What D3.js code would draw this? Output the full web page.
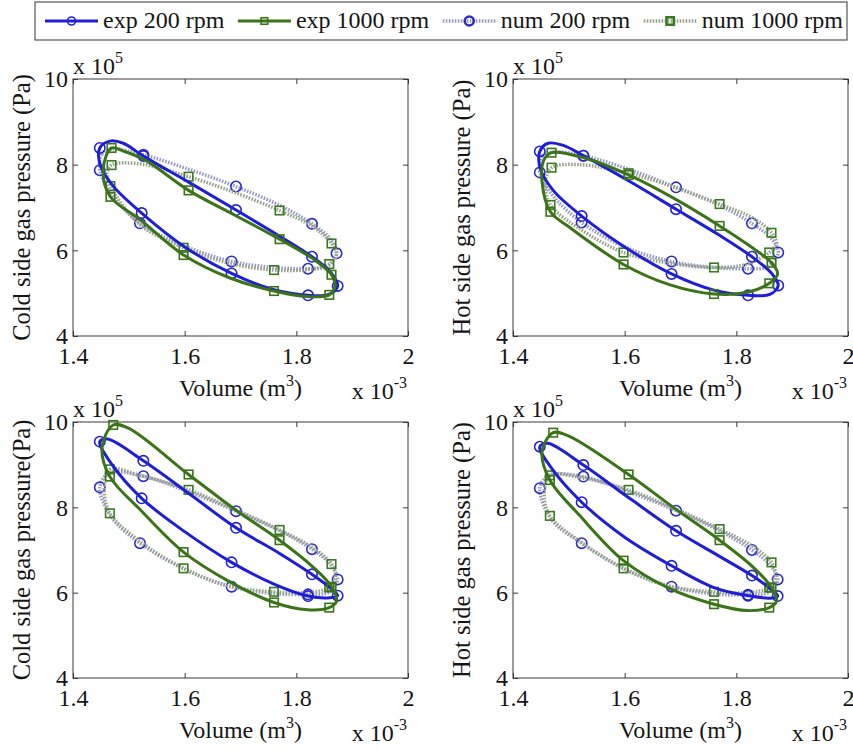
<!DOCTYPE html>
<html>
<head>
<meta charset="utf-8">
<script src="https://cdn.jsdelivr.net/npm/d3@7/dist/d3.min.js"></script>
<style>
  body { margin: 0; background: #fff; }
  svg text { font-family: "Liberation Serif", "Times New Roman", serif; fill: #151515; }
</style>
</head>
<body>
<svg id="chart" width="853" height="751"></svg>
<script>
// Volume in 1e-3 m^3, pressure in 1e5 Pa. Third value = 1 where the curve carries a marker.
const seriesNames = ["exp 200 rpm", "exp 1000 rpm", "num 200 rpm", "num 1000 rpm"];
const xTicks = [1.4, 1.6, 1.8, 2];
const yTicks = [4, 6, 8, 10];
const yLabels = ["Cold side gas pressure (Pa)", "Hot side gas pressure (Pa)",
                 "Cold side gas pressure(Pa)", "Hot side gas pressure (Pa)"];

// top left: cold side
const coldA_exp200 = [[1.448,8.39,1],[1.466,8.55,0],[1.49,8.50,0],[1.526,8.20,1],[1.61,7.57,0],[1.692,6.94,1],
  [1.77,6.33,0],[1.828,5.85,1],[1.862,5.48,0],[1.874,5.17,1],[1.858,4.97,0],[1.821,4.95,1],[1.76,5.08,0],
  [1.684,5.46,1],[1.60,6.08,0],[1.523,6.87,1],[1.472,7.5,0],[1.449,7.98,0]];
const coldA_exp1000 = [[1.469,8.39,1],[1.49,8.32,0],[1.53,8.1,0],[1.607,7.40,1],[1.69,6.82,0],[1.77,6.26,1],
  [1.83,5.8,0],[1.863,5.43,1],[1.869,5.15,0],[1.859,4.96,1],[1.82,4.92,0],[1.76,5.05,1],[1.68,5.36,0],
  [1.598,5.89,1],[1.52,6.72,0],[1.467,7.25,1],[1.454,7.9,0]];
const coldA_num200 = [[1.448,7.87,1],[1.452,8.25,0],[1.47,8.36,0],[1.526,8.23,1],[1.61,7.88,0],[1.692,7.49,1],
  [1.77,7.05,0],[1.828,6.62,1],[1.862,6.25,0],[1.872,5.93,1],[1.855,5.62,0],[1.821,5.57,1],[1.76,5.6,0],
  [1.684,5.74,1],[1.60,6.1,0],[1.52,6.63,1],[1.47,7.3,0]];
const coldA_num1000 = [[1.469,7.99,1],[1.52,8.02,0],[1.607,7.72,1],[1.69,7.35,0],[1.77,6.93,1],[1.83,6.55,0],
  [1.863,6.16,1],[1.872,5.9,0],[1.859,5.68,1],[1.82,5.55,0],[1.76,5.54,1],[1.68,5.7,0],[1.598,6.06,1],
  [1.52,6.6,0],[1.467,7.5,1],[1.461,7.8,0]];

// top right: hot side
const hotA_exp200 = [[1.448,8.31,1],[1.463,8.5,0],[1.49,8.45,0],[1.526,8.21,1],[1.61,7.6,0],[1.692,6.96,1],
  [1.77,6.35,0],[1.828,5.85,1],[1.864,5.45,0],[1.875,5.18,1],[1.86,4.97,0],[1.821,4.95,1],[1.76,5.07,0],
  [1.684,5.45,1],[1.60,6.08,0],[1.523,6.80,1],[1.472,7.4,0],[1.449,7.9,0]];
const hotA_exp1000 = [[1.469,8.28,1],[1.53,8.15,0],[1.607,7.76,1],[1.69,7.2,0],[1.77,6.57,1],[1.83,6.05,0],
  [1.863,5.71,1],[1.874,5.45,0],[1.859,5.23,1],[1.82,5.02,0],[1.76,4.98,1],[1.68,5.2,0],[1.598,5.67,1],
  [1.50,6.55,0],[1.467,6.90,1],[1.452,7.6,0],[1.455,8.1,0]];
const hotA_num200 = [[1.448,7.82,1],[1.452,8.2,0],[1.47,8.3,0],[1.526,8.21,1],[1.61,7.88,0],[1.692,7.47,1],
  [1.77,7.05,0],[1.828,6.63,1],[1.863,6.27,0],[1.875,5.95,1],[1.857,5.62,0],[1.821,5.57,1],[1.76,5.6,0],
  [1.684,5.74,1],[1.60,6.08,0],[1.523,6.65,1],[1.47,7.3,0]];
const hotA_num1000 = [[1.469,7.93,1],[1.52,8.0,0],[1.607,7.80,1],[1.69,7.47,0],[1.77,7.08,1],[1.83,6.75,0],
  [1.863,6.41,1],[1.872,6.15,0],[1.859,5.95,1],[1.82,5.68,0],[1.76,5.60,1],[1.68,5.7,0],[1.598,5.95,1],
  [1.52,6.5,0],[1.467,7.06,1],[1.458,7.6,0]];

// bottom left: cold side
const coldB_exp200 = [[1.448,9.54,1],[1.462,9.6,0],[1.526,9.09,1],[1.61,8.3,0],[1.692,7.52,1],[1.77,6.92,0],
  [1.828,6.43,1],[1.862,6.1,0],[1.874,5.93,1],[1.86,5.88,0],[1.821,5.92,1],[1.76,6.2,0],[1.684,6.71,1],
  [1.6,7.43,0],[1.523,8.21,1],[1.47,9.0,0]];
const coldB_exp1000 = [[1.472,9.93,1],[1.5,9.85,0],[1.607,8.77,1],[1.69,7.95,0],[1.77,7.23,1],[1.83,6.6,0],
  [1.863,6.14,1],[1.872,5.8,0],[1.859,5.65,1],[1.82,5.6,0],[1.76,5.77,1],[1.68,6.26,0],[1.598,6.95,1],
  [1.52,7.95,0],[1.466,8.72,1],[1.452,9.4,0]];
const coldB_num200 = [[1.448,8.47,1],[1.465,8.8,0],[1.526,8.73,1],[1.61,8.35,0],[1.692,7.91,1],[1.77,7.45,0],
  [1.828,7.02,1],[1.862,6.65,0],[1.874,6.31,1],[1.86,6.02,0],[1.821,5.96,1],[1.76,5.98,0],[1.684,6.14,1],
  [1.6,6.55,0],[1.52,7.16,1],[1.47,7.75,0]];
const coldB_num1000 = [[1.466,8.89,1],[1.52,8.75,0],[1.607,8.41,1],[1.69,7.95,0],[1.77,7.47,1],[1.83,7.05,0],
  [1.863,6.67,1],[1.87,6.35,0],[1.859,6.12,1],[1.82,6.0,0],[1.76,6.02,1],[1.68,6.15,0],[1.598,6.57,1],
  [1.52,7.2,0],[1.466,7.86,1],[1.456,8.4,0]];

// bottom right: hot side
const hotB_exp200 = [[1.448,9.42,1],[1.462,9.5,0],[1.526,8.99,1],[1.61,8.2,0],[1.692,7.45,1],[1.77,6.85,0],
  [1.828,6.40,1],[1.862,6.08,0],[1.874,5.92,1],[1.86,5.87,0],[1.821,5.93,1],[1.76,6.12,0],[1.684,6.63,1],
  [1.6,7.3,0],[1.523,8.12,1],[1.47,8.9,0]];
const hotB_exp1000 = [[1.472,9.75,1],[1.5,9.67,0],[1.607,8.77,1],[1.69,7.97,0],[1.77,7.23,1],[1.83,6.6,0],
  [1.863,6.12,1],[1.872,5.8,0],[1.859,5.65,1],[1.82,5.58,0],[1.76,5.73,1],[1.68,6.1,0],[1.598,6.75,1],
  [1.52,7.8,0],[1.466,8.64,1],[1.452,9.3,0]];
const hotB_num200 = [[1.448,8.45,1],[1.465,8.75,0],[1.526,8.72,1],[1.61,8.35,0],[1.692,7.92,1],[1.77,7.45,0],
  [1.828,7.0,1],[1.862,6.63,0],[1.874,6.31,1],[1.86,6.02,0],[1.821,5.95,1],[1.76,5.97,0],[1.684,6.14,1],
  [1.6,6.55,0],[1.523,7.16,1],[1.47,7.7,0]];
const hotB_num1000 = [[1.466,8.75,1],[1.52,8.7,0],[1.607,8.41,1],[1.69,7.97,0],[1.77,7.49,1],[1.83,7.08,0],
  [1.863,6.71,1],[1.87,6.4,0],[1.859,6.12,1],[1.82,6.0,0],[1.76,6.02,1],[1.68,6.15,0],[1.598,6.57,1],
  [1.52,7.2,0],[1.466,7.80,1],[1.456,8.3,0]];

const panelSeries = [
  [coldA_exp200, coldA_exp1000, coldA_num200, coldA_num1000],
  [hotA_exp200, hotA_exp1000, hotA_num200, hotA_num1000],
  [coldB_exp200, coldB_exp1000, coldB_num200, coldB_num1000],
  [hotB_exp200, hotB_exp1000, hotB_num200, hotB_num1000]
];

// look of each series (same order as seriesNames)
const styles = [
  { stroke: "#1e1ed8", width: 3, dash: null, marker: "circle", mstroke: "#2323d2", legendMarkW: 1.6, legendMarkR: 4 },
  { stroke: "#3a7417", width: 3, dash: null, marker: "square", mstroke: "#3a7417", legendMarkW: 1.6, legendMarkR: 4 },
  { stroke: "#9799c6", width: 3.5, dash: "1.6,1.4", marker: "circle", mstroke: "#2c2cc8", legendMarkW: 2.6, legendMarkR: 4.5 },
  { stroke: "#97a28a", width: 3.5, dash: "1.6,1.4", marker: "square", mstroke: "#3a7a22", legendMarkW: 2.6, legendMarkR: 4.5 }
];
const drawOrder = [2, 3, 0, 1];
const FONT = '"Liberation Serif", "Times New Roman", serif';

const svg = d3.select('#chart');
const plotW = 335;
const lefts = [73, 513];
const tops = [79, 422];
const heights = [257, 256];

function drawMarker(g, shape, x, y, color, r = 5.2, w = 1.6) {
  if (shape === "circle") {
    g.append('circle').attr('cx', x).attr('cy', y).attr('r', r)
      .attr('fill', 'none').attr('stroke', color).attr('stroke-width', w);
  } else {
    const s = r * 0.82;
    g.append('rect').attr('x', x - s).attr('y', y - s).attr('width', 2 * s).attr('height', 2 * s)
      .attr('fill', 'none').attr('stroke', color).attr('stroke-width', w);
  }
}

panelSeries.forEach((series, i) => {
  const col = i % 2, row = Math.floor(i / 2);
  const h = heights[row];
  const g = svg.append('g').attr('transform', `translate(${lefts[col]}, ${tops[row]})`);

  const x = d3.scaleLinear().domain([1.4, 2]).range([0, plotW]);
  const y = d3.scaleLinear().domain([4, 10]).range([h, 0]);

  g.append('rect').attr('width', plotW).attr('height', h)
    .attr('fill', '#fff').attr('stroke', '#3a3a3a').attr('stroke-width', 1);

  // inward ticks on all four sides, labels on bottom and left only
  g.append('g').attr('transform', `translate(0, ${h})`)
    .call(d3.axisBottom(x).tickValues(xTicks).tickSize(-5).tickSizeOuter(0).tickPadding(11).tickFormat(d => d));
  g.append('g')
    .call(d3.axisLeft(y).tickValues(yTicks).tickSize(-5).tickSizeOuter(0).tickPadding(5).tickFormat(d => d));
  g.append('g').call(d3.axisTop(x).tickValues(xTicks).tickSize(-5).tickSizeOuter(0).tickFormat(''));
  g.append('g').attr('transform', `translate(${plotW}, 0)`)
    .call(d3.axisRight(y).tickValues(yTicks).tickSize(-5).tickSizeOuter(0).tickFormat(''));
  g.selectAll('.domain').remove();
  g.selectAll('g').attr('font-family', FONT);
  g.selectAll('.tick line').attr('stroke', '#3a3a3a');
  g.selectAll('.tick text').attr('font-size', 24).attr('font-family', FONT).attr('fill', '#151515');

  const line = d3.line()
    .x(d => x(d[0]))
    .y(d => y(d[1]))
    .curve(d3.curveCatmullRomClosed.alpha(0.5));

  drawOrder.forEach(k => {
    const st = styles[k];
    const data = series[k];
    g.append('path').datum(data)
      .attr('d', line)
      .attr('fill', 'none')
      .attr('stroke', st.stroke)
      .attr('stroke-width', st.width)
      .attr('stroke-dasharray', st.dash)
      .attr('stroke-linejoin', 'round');
    const mg = g.append('g');
    data.filter(d => d[2] === 1).forEach(d => drawMarker(mg, st.marker, x(d[0]), y(d[1]), st.mstroke));
  });

  // x 10^5 multiplier
  const mult = g.append('text').attr('x', 0).attr('y', -5).attr('font-family', FONT).attr('font-size', 24);
  mult.append('tspan').text('x 10');
  mult.append('tspan').attr('dy', -11).attr('font-size', 16).text('5');

  // x label
  const xl = g.append('text').attr('x', plotW / 2).attr('y', h + 60)
    .attr('text-anchor', 'middle').attr('font-family', FONT).attr('font-size', 24);
  xl.append('tspan').text('Volume (m');
  xl.append('tspan').attr('dy', -10).attr('font-size', 16).text('3');
  xl.append('tspan').attr('dy', 10).text(')');

  const xm = g.append('text').attr('x', plotW - 1).attr('y', h + 63)
    .attr('text-anchor', 'end').attr('font-family', FONT).attr('font-size', 24);
  xm.append('tspan').text('x 10');
  xm.append('tspan').attr('dy', -11).attr('font-size', 16).text('-3');

  // y label
  g.append('text')
    .attr('transform', `translate(-43, ${h / 2}) rotate(-90)`)
    .attr('text-anchor', 'middle')
    .attr('font-family', FONT).attr('font-size', 24.5)
    .text(yLabels[i]);
});

// legend
const legend = svg.append('g');
legend.append('rect').attr('x', 35).attr('y', 2).attr('width', 812).attr('height', 38)
  .attr('fill', '#fff').attr('stroke', '#555').attr('stroke-width', 1.2);

const items = seriesNames.map((name, k) => {
  const it = legend.append('g');
  const st = styles[k];
  it.append('line').attr('x1', 0).attr('x2', 53).attr('y1', 21).attr('y2', 21)
    .attr('stroke', st.stroke).attr('stroke-width', st.width).attr('stroke-dasharray', st.dash);
  drawMarker(it, st.marker, 26.5, 21, st.mstroke, st.legendMarkR, st.legendMarkW);
  const t = it.append('text').attr('x', 58).attr('y', 28)
    .attr('font-family', FONT).attr('font-size', 24).text(name);
  return { g: it, w: 58 + t.node().getComputedTextLength() };
});
const totalW = d3.sum(items, d => d.w);
const gap = (843 - 45 - totalW) / (items.length - 1);
let cx = 45;
items.forEach(d => {
  d.g.attr('transform', `translate(${cx}, 0)`);
  cx += d.w + gap;
});
</script>
</body>
</html>
